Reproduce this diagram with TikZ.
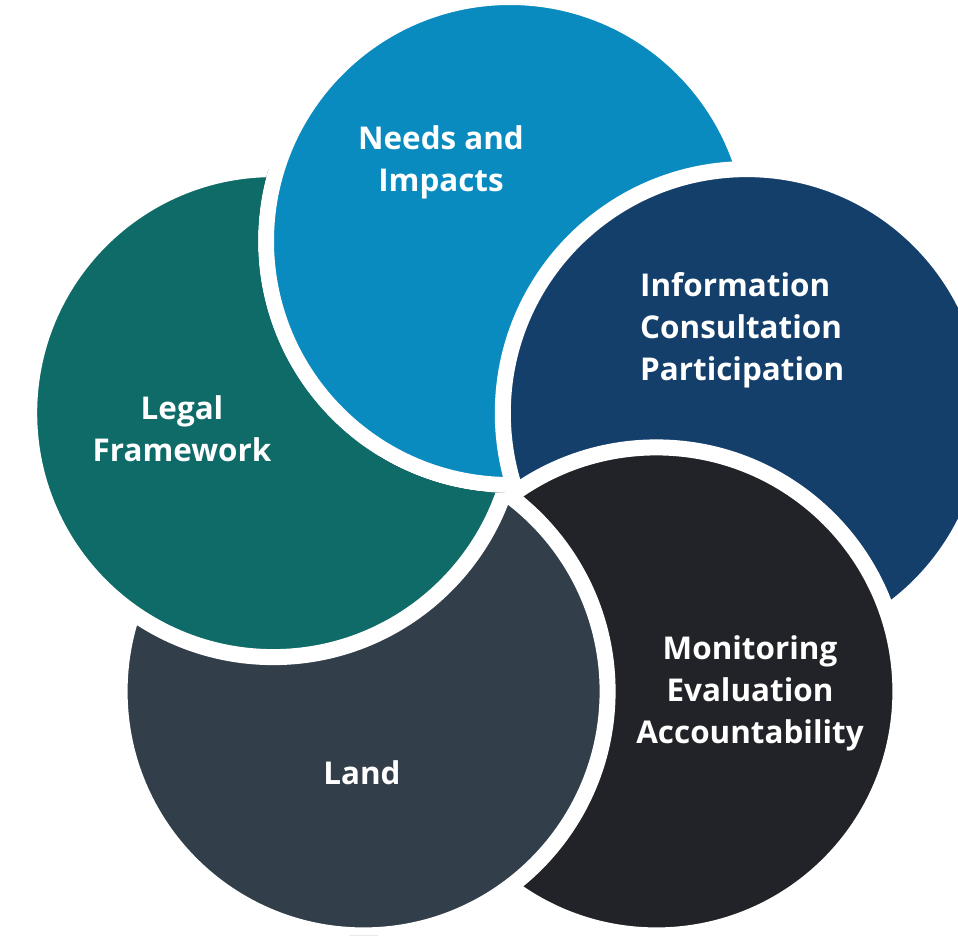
\documentclass[tikz,border=0pt]{standalone}
\usepackage{fontspec}
\setmainfont{Open Sans}
\definecolor{cNeeds}{HTML}{0A8BC0}
\definecolor{cLegal}{HTML}{0E6B68}
\definecolor{cInfo}{HTML}{143F6B}
\definecolor{cMon}{HTML}{222328}
\definecolor{cLand}{HTML}{323F4B}
\begin{document}
\begin{tikzpicture}[x=1pt,y=-1pt,
  disk/.style={draw=white, line width=16pt},
  lbl/.style={text=white, font=\bfseries\fontsize{31.4}{42}\selectfont, inner sep=0pt}]
\useasboundingbox (0,0) rectangle (958,935);
\clip (0,0) rectangle (958,935);
\coordinate (cN) at (510,241);
\coordinate (cI) at (746.8,413.1);
\coordinate (cL) at (273.2,413.1);
\coordinate (cA) at (363.6,691.4);
\coordinate (cM) at (656.4,691.4);
\path[disk, fill=cLegal] (cL) circle (244pt);
\path[disk, fill=cNeeds] (cN) circle (244pt);
\path[disk, fill=cInfo] (cI) circle (244pt);
\path[disk, fill=cMon] (cM) circle (244pt);
\begin{scope}
  % everything outside the footprint of "Needs and Impacts"
  \clip (0,0) -- (958,0) -- (958,935) -- (0,935) -- cycle
        (cN) ++(252pt,0) arc[start angle=0, end angle=360, radius=252pt] -- cycle;
  \path[disk, fill=cLand] (cA) circle (244pt);
  \path[disk, fill=cLegal] (cL) circle (244pt);
\end{scope}
\node[lbl, align=center] (tN) at (441,162) {Needs and\\Impacts};
\node[lbl, align=center] (tL) at (182,429) {Legal\\Framework};
\node[lbl, align=left, anchor=west] (tI) at (640,330) {Information\\Consultation\\Participation};
\node[lbl, align=center] (tM) at (750,693) {Monitoring\\Evaluation\\Accountability};
\node[lbl, align=center] (tA) at (362,773) {Land};
\end{tikzpicture}
\end{document}
